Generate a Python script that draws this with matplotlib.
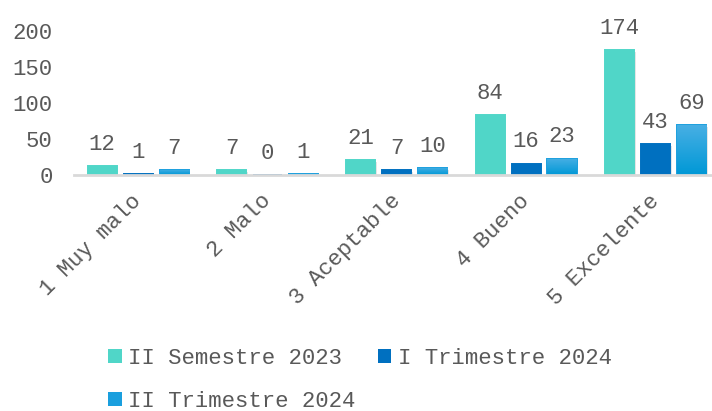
import numpy as np
import matplotlib.pyplot as plt
import matplotlib.patheffects as pe
import matplotlib.transforms as mtransforms
from matplotlib.patches import Patch
from matplotlib.colors import LinearSegmentedColormap

# datos
categorias = ['1 Muy malo', '2 Malo', '3 Aceptable', '4 Bueno', '5 Excelente']
series = ['II Semestre 2023', 'I Trimestre 2024', 'II Trimestre 2024']
sem2_2023 = [12, 7, 21, 84, 174]
tri1_2024 = [1, 0, 7, 16, 43]
tri2_2024 = [7, 1, 10, 23, 69]
yticks = [0, 50, 100, 150, 200]

colores = ['#50D6C8', '#0070C0', '#1A9FDE']
gris = '#595959'

plt.rcParams['font.family'] = ['Liberation Mono', 'DejaVu Sans']

fig = plt.figure(figsize=(7.12, 4.11), dpi=100)
# el area de trazado sale un poco por la derecha, como en el original
ax = fig.add_axes([73.5 / 712, 0.574, 646.5 / 712, 0.350])

x = np.arange(len(categorias))
ancho = 0.225
paso = 0.278
valores = [sem2_2023, tri1_2024, tri2_2024]
sombra = [pe.SimplePatchShadow(offset=(1.2, -1.2), shadow_rgbFace='#7F7F7F', alpha=0.2),
          pe.Normal()]

for i, (vals, col) in enumerate(zip(valores, colores)):
    pos = x + (i - 1) * paso
    barras = ax.bar(pos, vals, width=ancho, color=col, edgecolor=col,
                    linewidth=1.4, zorder=2)
    for b in barras:
        if b.get_height() > 2:
            b.set_path_effects(sombra)
    if i == 2:
        # degradado vertical en la tercera serie
        grad = np.linspace(0, 1, 64).reshape(-1, 1)
        cmap = LinearSegmentedColormap.from_list('g', ['#0098D6', '#47AFE4'])
        for b in barras:
            bx, by = b.get_x(), b.get_y()
            bw, bh = b.get_width(), b.get_height()
            if bh < 3:
                continue
            im = ax.imshow(grad, cmap=cmap, aspect='auto', origin='lower',
                           extent=[bx, bx + bw, by, by + bh], zorder=2.5)
            im.set_clip_path(b)
    for p, v in zip(pos, vals):
        ax.annotate(str(v), (p, v), xytext=(0, 8), textcoords='offset points',
                    ha='center', va='bottom', fontsize=16, color=gris)

ax.set_xlim(-0.5, len(categorias) - 0.5)
ax.set_ylim(0, 200)
ax.set_yticks(yticks)
ax.set_xticks(x)
ax.set_xticklabels(categorias, rotation=45, ha='right', rotation_mode='anchor')
ax.tick_params(axis='both', length=0, labelsize=16, labelcolor=gris)
ax.tick_params(axis='x', pad=11)
ax.tick_params(axis='y', pad=15)

# mover un poco las etiquetas a la izquierda
desplaza = mtransforms.ScaledTranslation(-7 / 100, 0, fig.dpi_scale_trans)
for lab in ax.get_xticklabels():
    lab.set_transform(lab.get_transform() + desplaza)

for s in ['top', 'right', 'left']:
    ax.spines[s].set_visible(False)
ax.spines['bottom'].set_color('#D9D9D9')
ax.spines['bottom'].set_linewidth(2)
ax.set_facecolor('none')

# orden por filas: II Sem 2023, I Trim 2024 / II Trim 2024
orden = [0, 2, 1]
handles = [Patch(facecolor=colores[k]) for k in orden]
etiquetas = [series[k] for k in orden]
fig.legend(handles, etiquetas, ncol=2, loc='lower left',
           bbox_to_anchor=(0.124, -0.051), frameon=False, fontsize=16,
           labelcolor=gris, handlelength=0.6, handleheight=0.6,
           handletextpad=0.3, columnspacing=1.0, labelspacing=1.0)

fig.savefig('out.png', dpi=100)
